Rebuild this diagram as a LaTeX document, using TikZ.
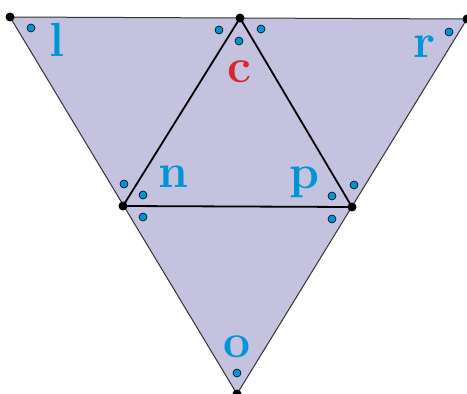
\documentclass[tikz,border=0pt]{standalone}
\usetikzlibrary{calc}
\definecolor{lavender}{RGB}{196,194,222}
\definecolor{labelblue}{RGB}{0,150,214}
\definecolor{labelred}{RGB}{218,37,44}
\tikzset{
  vdot/.style={circle, fill=black, inner sep=0pt, minimum size=9pt},
  adot/.style={circle, draw=black, fill=labelblue, line width=0.6pt, inner sep=0pt, minimum size=8pt},
  lbl/.style={text=labelblue, font=\fontsize{48}{48}\selectfont\bfseries, inner sep=0pt},
}

\begin{document}
\begin{tikzpicture}[x=1pt, y=-1pt]
  \useasboundingbox (0,0) rectangle (467,394);
  \coordinate (L) at (10,17);
  \coordinate (T) at (240,18);
  \coordinate (R) at (467,19);
  \coordinate (N) at (123,206);
  \coordinate (P) at (352,207);
  \coordinate (O) at (237,394);  % bottom tip
  \fill[lavender] (L) -- (R) -- (O) -- cycle;
  \draw[line width=1pt, black!80] (L) -- (R) -- (O) -- cycle;
  \draw[line width=1.8pt] (T) -- (N) -- (P) -- cycle;

  \node[vdot] (vL) at (L) {};
  \node[vdot] (vT) at (T) {};
  \node[vdot] (vR) at (R) {};
  \node[vdot] (vN) at (N) {};
  \node[vdot] (vP) at (P) {};
  \node[vdot] (vO) at (O) {};

  % angle marks
  \node[adot] (aL)  at (31,28) {};
  \node[adot] (aT1) at (219,30) {};
  \node[adot] (aT2) at (261,29) {};
  \node[adot] (aT3) at (239,41) {};
  \node[adot] (aR)  at (449,32) {};
  \node[adot] (aN1) at (124,184) {};
  \node[adot] (aN2) at (143,195) {};
  \node[adot] (aN3) at (143,217) {};
  \node[adot] (aP1) at (354,185) {};
  \node[adot] (aP2) at (332,196) {};
  \node[adot] (aP3) at (332,219) {};
  \node[adot] (aO)  at (237,373) {};

  \node[lbl] (lbl-l) at (57,40) {l};
  \node[lbl, text=labelred] (lbl-c) at (239,72) {c};
  \node[lbl] (lbl-r) at (425,47) {r};
  \node[lbl] (lbl-n) at (173,177) {n};
  \node[lbl] (lbl-p) at (304,182) {p};
  \node[lbl] (lbl-o) at (237,347) {o};
\end{tikzpicture}
\end{document}
